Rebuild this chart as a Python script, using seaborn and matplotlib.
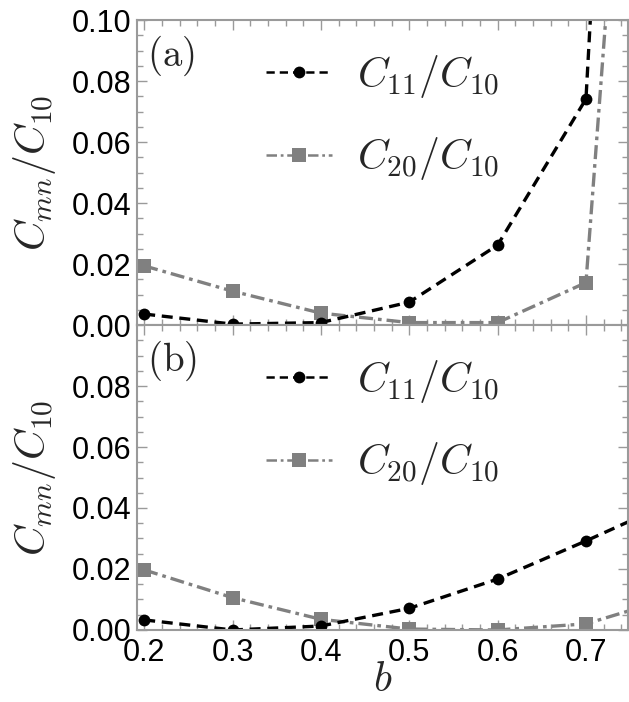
import numpy as np
import pandas as pd
import matplotlib
import matplotlib.pyplot as plt
import seaborn as sns
from matplotlib.ticker import MultipleLocator, FormatStrFormatter

matplotlib.use('Agg')

# ---- data ----
b_vals = [0.2, 0.3, 0.4, 0.5, 0.6, 0.7, 0.8]

c11_a = [0.0036, 0.0003, 0.0008, 0.0075, 0.0262, 0.0741, 0.60]
c20_a = [0.0194, 0.0111, 0.0039, 0.0008, 0.0008, 0.0139, 0.40]

c11_b = [0.0033, 0.0000, 0.0013, 0.0071, 0.0167, 0.0292, 0.0423]
c20_b = [0.0197, 0.0106, 0.0035, 0.0003, 0.0000, 0.0020, 0.0108]

panel_tags = ['(a)', '(b)']
series_labels = [r'$C_{11}/C_{10}$', r'$C_{20}/C_{10}$']
yticks_a = [0.0, 0.02, 0.04, 0.06, 0.08, 0.10]
yticks_b = [0.0, 0.02, 0.04, 0.06, 0.08]

sns.set_theme(style='ticks')
plt.rcParams['font.family'] = ['Liberation Sans', 'DejaVu Sans']
plt.rcParams['mathtext.fontset'] = 'cm'

fig = plt.figure(figsize=(6.29, 7.02), dpi=100)
left, right = 0.218, 0.999
ax_a = fig.add_axes([left, 0.537, right - left, 0.9715 - 0.537])
ax_b = fig.add_axes([left, 0.1026, right - left, 0.537 - 0.1026], sharex=ax_a)

spine_col = '#9a9a9a'
gray = '#808080'

for ax, c11, c20, tag, yt in zip([ax_a, ax_b], [c11_a, c11_b], [c20_a, c20_b],
                                 panel_tags, [yticks_a, yticks_b]):
    df = pd.DataFrame({'b': b_vals, 'c11': c11, 'c20': c20})
    sns.lineplot(data=df, x='b', y='c20', ax=ax, color=gray, lw=2.4,
                 marker='s', markersize=10, markeredgewidth=0,
                 label=series_labels[1])
    sns.lineplot(data=df, x='b', y='c11', ax=ax, color='black', lw=2.4,
                 marker='o', markersize=8.5, markeredgewidth=0,
                 label=series_labels[0])
    ax.lines[0].set_dashes([4.2, 1.5, 1.1, 1.5])
    ax.lines[1].set_dashes([3.3, 2.0])

    ax.set_xlim(0.192, 0.748)
    ax.set_ylim(0, 0.1)
    ax.set_yticks(yt)
    ax.yaxis.set_minor_locator(MultipleLocator(0.005))
    ax.xaxis.set_major_locator(MultipleLocator(0.1))
    ax.xaxis.set_minor_locator(MultipleLocator(0.02))
    ax.yaxis.set_major_formatter(FormatStrFormatter('%.2f'))
    ax.xaxis.set_major_formatter(FormatStrFormatter('%.1f'))
    ax.tick_params(which='both', direction='in', top=True, right=True,
                   color=spine_col, labelcolor='black', labelsize=22, pad=4)
    ax.tick_params(axis='x', pad=6)
    ax.tick_params(which='major', length=7, width=1)
    ax.tick_params(which='minor', length=4, width=1)
    for s in ax.spines.values():
        s.set_color(spine_col)
        s.set_linewidth(1.5)

    ax.set_ylabel(r'$C_{mn}/C_{10}$', fontsize=30, labelpad=10)
    ax.text(0.02, 0.955, r'$\mathrm{' + tag + '}$', transform=ax.transAxes,
            fontsize=28, ha='left', va='top')

    handles, labels = ax.get_legend_handles_labels()
    leg = ax.legend(handles[::-1], labels[::-1], loc='upper left',
                    bbox_to_anchor=(0.185, 1.015), frameon=False, fontsize=30,
                    handlelength=1.6, handletextpad=0.6, labelspacing=0.85)
    for h in leg.legend_handles:
        h.set_linewidth(1.8)

ax_a.tick_params(labelbottom=False)
ax_a.set_xlabel('')
ax_b.set_xlabel(r'$b$', fontsize=30, labelpad=-6)

fig.savefig('out.png', dpi=100)
